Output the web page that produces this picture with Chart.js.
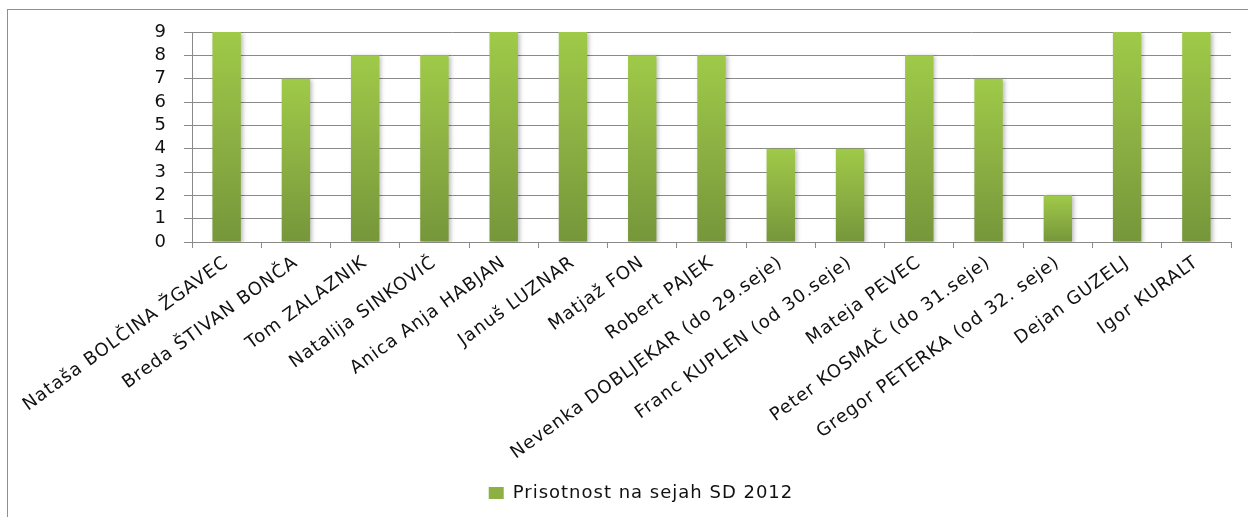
<!DOCTYPE html>
<html>
<head>
<meta charset="utf-8">
<script src="https://cdn.jsdelivr.net/npm/chart.js@4.4.1/dist/chart.umd.min.js"></script>
<style>
  html, body { margin: 0; padding: 0; background: #fff; overflow: hidden; }
  #box {
    position: absolute; left: 7px; top: 9px;
    width: 1266px; height: 508px;
    border-left: 1px solid #8f8f8f; border-top: 1px solid #8f8f8f;
  }
</style>
</head>
<body>
<div id="box"><canvas id="barChart"></canvas></div>
<script>
// members of the board and how many sessions each attended in 2012
const members = [
  'Nataša BOLČINA ŽGAVEC', 'Breda ŠTIVAN BONČA', 'Tom ZALAZNIK', 'Natalija SINKOVIČ',
  'Anica Anja HABJAN', 'Januš LUZNAR', 'Matjaž FON', 'Robert PAJEK',
  'Nevenka DOBLJEKAR (do 29.seje)', 'Franc KUPLEN (od 30.seje)', 'Mateja PEVEC',
  'Peter KOSMAČ (do 31.seje)', 'Gregor PETERKA (od 32. seje)', 'Dejan GUZELJ', 'Igor KURALT'
];
const attendance = [9, 7, 8, 8, 9, 9, 8, 8, 4, 4, 8, 7, 2, 9, 9];
const seriesName = 'Prisotnost na sejah SD 2012';
const yMax = 9;

const font = { family: 'DejaVu Sans', size: 18 };
const gridColor = '#8a8a8a';

function barGradient(context) {
  const chart = context.chart;
  if (!chart.chartArea || context.raw === undefined) return '#8cb345';
  const y = chart.scales.y;
  const top = y.getPixelForValue(context.raw);
  const bottom = y.getPixelForValue(0);
  const g = chart.ctx.createLinearGradient(0, top, 0, bottom);
  g.addColorStop(0, '#9fca48');
  g.addColorStop(0.5, '#8cb043');
  g.addColorStop(1, '#76963a');
  return g;
}

// the original text is a bit wider than DejaVu, open it up slightly
const textSpacing = {
  id: 'textSpacing',
  beforeLayout(chart) { chart.ctx.letterSpacing = '1px'; },
  beforeDraw(chart) { chart.ctx.letterSpacing = '1px'; }
};

const barShadow = {
  id: 'barShadow',
  beforeDatasetDraw(chart) {
    const ctx = chart.ctx;
    ctx.save();
    ctx.shadowColor = 'rgba(0,0,0,0.25)';
    ctx.shadowBlur = 4;
    ctx.shadowOffsetX = 2;
    ctx.shadowOffsetY = 1;
  },
  afterDatasetDraw(chart) {
    chart.ctx.restore();
  }
};

let barChart = new Chart(document.getElementById('barChart'), {
  type: 'bar',
  data: {
    labels: members,
    datasets: [{
      label: seriesName,
      data: attendance,
      backgroundColor: barGradient,
      barPercentage: 0.41,
      categoryPercentage: 1
    }]
  },
  plugins: [textSpacing, barShadow],
  options: {
    responsive: true,
    maintainAspectRatio: false,
    animation: false,
    layout: { padding: { top: 22, right: 0, bottom: 6, left: 0 } },
    plugins: {
      tooltip: { enabled: false },
      legend: {
        position: 'bottom',
        labels: {
          font: font,
          color: '#111',
          boxWidth: 15,
          boxHeight: 12,
          padding: 10,
          generateLabels(chart) {
            const items = Chart.defaults.plugins.legend.labels.generateLabels(chart);
            items.forEach(it => { it.fillStyle = '#8cb043'; it.strokeStyle = 'transparent'; it.lineWidth = 0; });
            return items;
          }
        }
      }
    },
    scales: {
      x: {
        grid: { display: true, drawOnChartArea: false, drawTicks: true, tickLength: 6, color: gridColor },
        border: { color: gridColor },
        ticks: { font: font, color: '#111', minRotation: 36, maxRotation: 36, autoSkip: false, padding: 4 },
        afterFit(scale) {
          scale.height = 232;
          scale.paddingLeft = 0;
          scale.paddingRight = 43;
        }
      },
      y: {
        min: 0,
        max: yMax,
        grid: { color: gridColor, tickLength: 8 },
        border: { color: gridColor },
        ticks: { stepSize: 1, autoSkip: false, font: font, color: '#111', padding: 17 },
        afterFit(scale) {
          scale.width = 184;
          scale.paddingTop = 0;
          scale.paddingBottom = 0;
        }
      }
    }
  }
});
</script>
</body>
</html>
